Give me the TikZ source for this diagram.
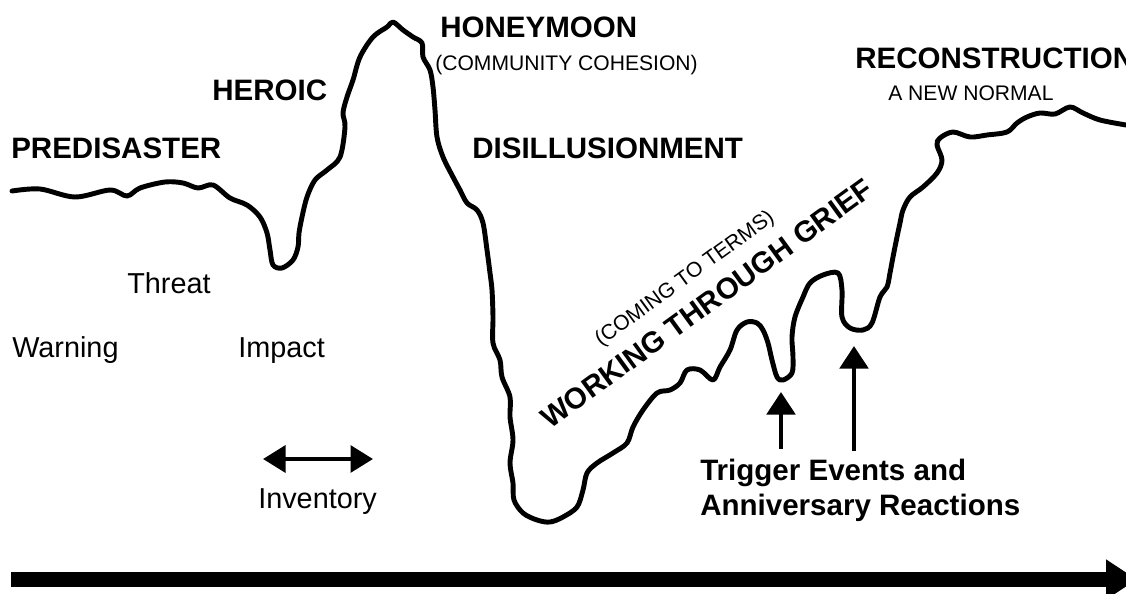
\documentclass[tikz,border=0pt]{standalone}
\usepackage{fontspec}
\setmainfont{Liberation Sans}
\usetikzlibrary{arrows.meta}

\begin{document}
\begin{tikzpicture}[x=0.025cm,y=-0.025cm,
  stage/.style={font=\fontsize{21}{24}\selectfont\bfseries,inner sep=0pt,anchor=base west},
  remark/.style={font=\fontsize{15}{18}\selectfont,inner sep=0pt,anchor=base west},
  tag/.style={font=\fontsize{20.5}{24}\selectfont,inner sep=0pt,anchor=base west},
  pointer/.style={line width=3.4pt,-{Triangle[length=16pt,width=20pt]}}]
  \useasboundingbox (0,0) rectangle (1126,593);
  % the course of the community's reactions
  \draw[line width=3.5pt,line join=round,line cap=round] plot[smooth,tension=0.55] coordinates {
    (12,191) (40,189) (75,197) (110,190) (127,196) (140,188) (165,182) (183,183) (198,188) (213,185)
    (230,198) (247,205) (260,217) (267,233) (270,250) (273,265) (282,268) (293,260) (298,247) (299,233)
    (302,217) (307,197) (315,180) (327,170) (340,157) (345,127) (343,113) (347,97) (353,80) (360,57)
    (373,37) (387,27) (393,22) (403,30) (413,37) (422,43) (423,57) (430,70) (433,87) (435,110)
    (437,137) (443,157) (453,177) (460,190) (467,203) (477,210) (483,223) (487,250) (490,273) (492,290)
    (493,317) (493,343) (500,360) (502,377) (510,397) (510,417) (513,440) (510,463) (513,483) (514,500)
    (523,513) (537,520) (550,522) (563,517) (577,507) (583,490) (587,473) (597,463) (613,453) (627,443)
    (633,427) (643,410) (657,393) (670,390) (680,383) (687,370) (700,370) (713,380) (720,367) (730,350)
    (737,330) (747,322) (757,323) (763,330) (768,343) (772,360) (777,377) (783,380) (792,373) (793,357)
    (792,337) (795,317) (803,297) (810,283) (823,275) (838,273) (842,290) (842,317) (850,328) (863,330)
    (872,323) (880,297) (887,287) (890,273) (893,257) (897,237) (900,223) (903,210) (910,197) (923,187)
    (937,173) (942,160) (937,145) (940,138) (953,132) (970,137) (987,135) (1007,132) (1017,123) (1027,117)
    (1040,113) (1055,114) (1070,107) (1083,113) (1100,120) (1126,125)};

  \node[stage] (predisaster) at (11,158) {PREDISASTER};
  \node[stage] (heroic) at (212,100) {HEROIC};
  \node[stage] (honeymoon) at (440,37) {HONEYMOON};
  \node[remark] (cohesion) at (435,70) {(COMMUNITY COHESION)};
  \node[stage] (disillusion) at (472,158) {DISILLUSIONMENT};
  \node[stage] (reconstruction) at (855,68) {RECONSTRUCTION};
  \node[remark] (normal) at (888,100) {A NEW NORMAL};
  \node[stage,rotate=36] (grief) at (550,430) {WORKING THROUGH GRIEF};
  \node[remark,rotate=36] (terms) at (601,347) {(COMING TO TERMS)};

  \node[tag] (threat) at (127,293) {Threat};
  \node[tag] (warning) at (12,357) {Warning};
  \node[tag] (impact) at (238,357) {Impact};
  \node[tag] (inventory) at (258,508) {Inventory};
  \node[stage] (trigger) at (700,480) {Trigger Events and};
  \node[stage] (anniversary) at (700,515) {Anniversary Reactions};

  \coordinate (inv-l) at (263,459);
  \coordinate (inv-r) at (373,459);
  \draw[line width=2.9pt,{Triangle[length=16pt,width=19pt]}-{Triangle[length=16pt,width=19pt]}] (inv-l) -- (inv-r);

  \coordinate (dip1-tail) at (781,449);
  \coordinate (dip1) at (781,392);
  \coordinate (dip2-tail) at (854,451);
  \coordinate (dip2) at (854,346);
  \draw[pointer] (dip1-tail) -- (dip1);
  \draw[pointer] (dip2-tail) -- (dip2);

  \coordinate (time-start) at (11,579.5);
  \coordinate (time-end) at (1137,579.5);
  \draw[line width=10.6pt,-{Triangle[length=22pt,width=27pt]}] (time-start) -- (time-end);
\end{tikzpicture}
\end{document}
